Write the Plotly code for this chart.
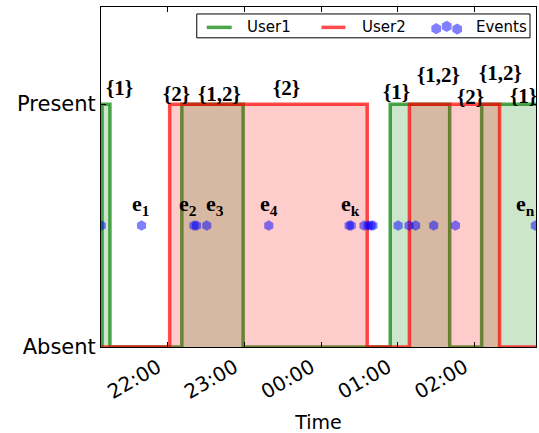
import math
import plotly.graph_objects as go

# Presence of each user over the evening (state switches: 1 = present, 0 = absent)
user1_times = ["2015-01-01 21:00", "2015-01-01 21:08:36", "2015-01-01 21:14:48",
               "2015-01-01 22:11", "2015-01-01 22:59", "2015-01-02 00:54",
               "2015-01-02 01:40:30", "2015-01-02 02:05:30", "2015-01-02 03:00"]
user1_state = [0, 1, 0, 1, 0, 1, 0, 1, 1]

user2_times = ["2015-01-01 21:00", "2015-01-01 22:01:30", "2015-01-02 00:36",
               "2015-01-02 01:09", "2015-01-02 02:19:30", "2015-01-02 03:00"]
user2_state = [0, 1, 0, 1, 0, 0]

# Sensor events
event_times = ["2015-01-01 21:08", "2015-01-01 21:39:30", "2015-01-01 22:20:30",
               "2015-01-01 22:22:30", "2015-01-01 22:30:30", "2015-01-01 23:19",
               "2015-01-02 00:21:50", "2015-01-02 00:23:30", "2015-01-02 00:33:30",
               "2015-01-02 00:36:40", "2015-01-02 00:39", "2015-01-02 00:40:30",
               "2015-01-02 01:00:10", "2015-01-02 01:08:40", "2015-01-02 01:13:50",
               "2015-01-02 01:28", "2015-01-02 01:45", "2015-01-02 02:47:30"]
event_level = 0.5

# Event name labels
event_label_text = ["e<sub>1</sub>", "e<sub>2</sub>", "e<sub>3</sub>",
                    "e<sub>4</sub>", "e<sub>k</sub>", "e<sub>n</sub>"]
event_label_times = ["2015-01-01 21:39", "2015-01-01 22:16", "2015-01-01 22:37",
                     "2015-01-01 23:19", "2015-01-02 00:23", "2015-01-02 02:40"]
event_label_level = 0.585

# Who is present in each interval
set_text = ["{1}", "{2}", "{1,2}", "{2}", "{1}", "{1,2}", "{2}", "{1,2}", "{1}"]
set_times = ["2015-01-01 21:22:36", "2015-01-01 22:07", "2015-01-01 22:40:30",
             "2015-01-01 23:32:45", "2015-01-02 00:59:12", "2015-01-02 01:31:55",
             "2015-01-02 01:56:55", "2015-01-02 02:20:20", "2015-01-02 02:38:10"]
set_levels = [1.065, 1.041, 1.041, 1.065, 1.049, 1.118, 1.029, 1.127, 1.033]

legend_names = ["User1", "User2", "Events"]

x_range = ["2015-01-01 21:07:48", "2015-01-02 02:48"]

GREEN_LINE = "rgba(0,128,0,0.7)"
RED_LINE = "rgba(255,0,0,0.7)"
BLUE_DOT = "rgba(0,0,255,0.5)"

W, H = 539, 433
L, R, T, B = 101, 2, 7, 84
PW, PH = W - L - R, H - T - B


def px_x(x):
    return (x - L) / PW


def px_y(y):
    return (H - B - y) / PH


fig = go.Figure()

fig.add_trace(go.Scatter(
    x=user1_times, y=user1_state, mode="lines", name="User1", showlegend=False,
    line=dict(color=GREEN_LINE, width=3.5, shape="hv"),
    fill="tozeroy", fillcolor="rgba(0,128,0,0.2)",
))
fig.add_trace(go.Scatter(
    x=user2_times, y=user2_state, mode="lines", name="User2", showlegend=False,
    line=dict(color=RED_LINE, width=3.5, shape="hv"),
    fill="tozeroy", fillcolor="rgba(255,0,0,0.2)",
))
fig.add_trace(go.Scatter(
    x=event_times, y=[event_level] * len(event_times), mode="markers", name="Events",
    showlegend=False,
    marker=dict(symbol="hexagon", size=10.5, color=BLUE_DOT, line=dict(width=0)),
    cliponaxis=True,
))

e_font = dict(family="Liberation Serif", size=22, color="black")
s_font = dict(family="Liberation Serif", size=21, color="black")
for txt, t in zip(event_label_text, event_label_times):
    fig.add_annotation(x=t, y=event_label_level, text="<b>" + txt + "</b>",
                       showarrow=False, font=e_font, yanchor="middle")
for txt, t, lv in zip(set_text, set_times, set_levels):
    fig.add_annotation(x=t, y=lv, text="<b>" + txt + "</b>", showarrow=False,
                       font=s_font, yanchor="middle")

# Legend box, drawn in paper space
shapes = [dict(type="rect", xref="paper", yref="paper",
               x0=px_x(197), x1=px_x(531), y0=px_y(38), y1=px_y(14),
               line=dict(color="black", width=1), fillcolor="white", layer="above")]
for (x0, x1), col in zip([(207, 232), (322, 346)], [GREEN_LINE, RED_LINE]):
    shapes.append(dict(type="line", xref="paper", yref="paper",
                       x0=px_x(x0), x1=px_x(x1), y0=px_y(27.5), y1=px_y(27.5),
                       line=dict(color=col, width=3.5), layer="above"))


def hexagon_path(cx, cy, r):
    pts = []
    for k in range(6):
        a = math.radians(90 + 60 * k)
        pts.append((px_x(cx + r * math.cos(a)), px_y(cy - r * math.sin(a))))
    return "M " + " L ".join(f"{a:.5f},{b:.5f}" for a, b in pts) + " Z"


for cx, cy in [(437, 28.8), (447.5, 26.5), (458, 29.2)]:
    shapes.append(dict(type="path", xref="paper", yref="paper",
                       path=hexagon_path(cx, cy, 5.6),
                       fillcolor=BLUE_DOT, line=dict(width=0), layer="above"))

for name, x in zip(legend_names, [245, 361, 475]):
    fig.add_annotation(xref="paper", yref="paper", x=px_x(x), y=px_y(27),
                       text=name, showarrow=False, xanchor="left", yanchor="middle",
                       font=dict(family="DejaVu Sans", size=15, color="black"))

fig.update_layout(
    width=W, height=H,
    margin=dict(l=L, r=R, t=T, b=B),
    paper_bgcolor="white", plot_bgcolor="white",
    font=dict(family="DejaVu Sans", color="black"),
    showlegend=False,
    shapes=shapes,
    xaxis=dict(
        title=dict(text="Time", font=dict(size=19), standoff=14),
        type="date", range=x_range, tickformat="%H:%M",
        dtick=3600000, tick0="2015-01-01 22:00",
        tickangle=-30, tickfont=dict(size=20), ticklabelshift=-10,
        showgrid=False, zeroline=False,
        showline=True, linecolor="black", linewidth=1, mirror="ticks",
        ticks="inside", ticklen=5, tickcolor="black",
    ),
    yaxis=dict(
        range=[0, 1.4], tickvals=[0, 1], ticktext=["Absent", "Present"],
        tickfont=dict(size=21), showgrid=False, zeroline=False,
        showline=True, linecolor="black", linewidth=1, mirror="ticks",
        ticks="inside", ticklen=5, tickcolor="black",
    ),
)

fig.write_html("out.html")
